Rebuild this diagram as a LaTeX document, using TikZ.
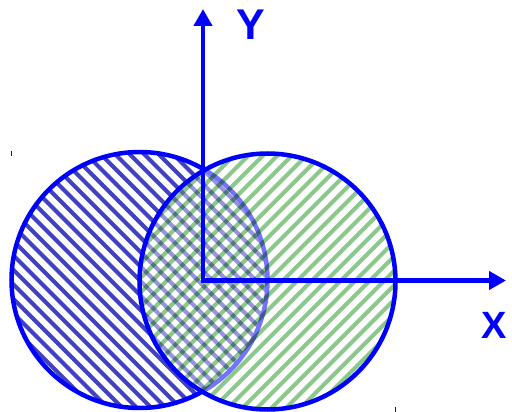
\documentclass[tikz,border=0pt]{standalone}
\usepackage{fontspec}
\setmainfont{Liberation Sans}
\usetikzlibrary{arrows.meta}
\definecolor{axblue}{RGB}{0,0,255}
\definecolor{hatchblue}{RGB}{65,65,195}
\definecolor{hatchgreen}{RGB}{140,200,140}
\tikzset{
  outline/.style={draw=axblue, line width=4.5pt},
  bluehatch/.style={hatchblue, line width=4.2pt},
  greenhatch/.style={hatchgreen, line width=4.2pt},
  axis/.style={axblue, line width=4.6pt, line join=miter,
    {Triangle[length=17pt,width=18pt]}-{Triangle[length=17pt,width=18pt]}},
  axlabel/.style={text=axblue, inner sep=0pt}
}
\begin{document}
\begin{tikzpicture}[x=1pt,y=-1pt]
\useasboundingbox (0,0) rectangle (512,412);
\coordinate (L) at (139.5,280);
\coordinate (R) at (267.5,281.5);
% left circle hatch
\begin{scope}
  \clip (L) circle[radius=128];
  \foreach \k in {-24,...,24}
    \draw[bluehatch] (\k*14.5+139.5-150,280-150) -- ++(300,300);
\end{scope}
\draw[outline] (L) circle[radius=128];
% right circle
\fill[white, opacity=0.45] (R) circle[radius=128];
\begin{scope}[blend mode=multiply]
  \clip (R) circle[radius=128];
  \foreach \k in {-24,...,24}
    \draw[greenhatch] (\k*14.5+267.5-150,281.5+150) -- ++(300,-300);
\end{scope}
\draw[outline] (R) circle[radius=128];
% axes
\coordinate (O) at (203,280.5);
\coordinate (Yt) at (203,9);
\coordinate (Xt) at (506,280.5);
\draw[axis] (Yt) -- (O) -- (Xt);
\node[axlabel, font=\fontsize{43}{43}\selectfont\bfseries] (ylab) at (250.5,24.5) {Y};
\node[axlabel, font=\fontsize{38}{38}\selectfont\bfseries] (xlab) at (494,325.5) {X};
% small ticks
\coordinate (t1a) at (11.3,150.7);
\coordinate (t1b) at (11.3,155.7);
\coordinate (t2a) at (395.7,406.7);
\coordinate (t2b) at (395.7,412);
\draw[axblue, line width=1pt] (t1a) -- (t1b);
\draw[axblue, line width=1pt] (t2a) -- (t2b);
\end{tikzpicture}
\end{document}
